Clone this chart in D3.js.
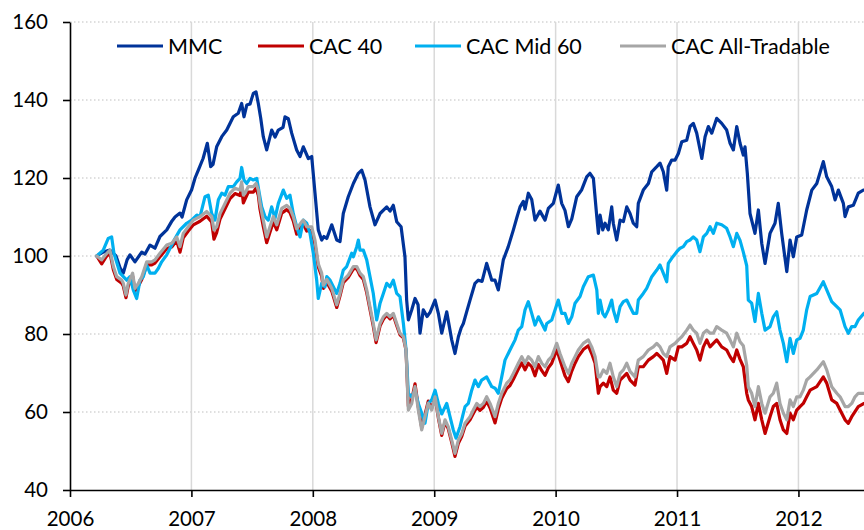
<!DOCTYPE html>
<html><head><meta charset="utf-8">
<script src="https://cdn.jsdelivr.net/npm/d3@7"></script>
<style>
body{margin:0;background:#fff}
svg{display:block}
text{font-family:Lato,'Liberation Sans',Arial,sans-serif;fill:#000}
</style>
</head><body>
<svg id="chart" width="864" height="530"></svg>
<script>
const seriesNames = ["MMC", "CAC 40", "CAC Mid 60", "CAC All-Tradable"];
const yearTicks = [2006, 2007, 2008, 2009, 2010, 2011, 2012];
const valueTicks = [40, 60, 80, 100, 120, 140, 160];

// [decimal year, index value]
const mmc = [[2006.220,100],[2006.272,101],[2006.329,101.5],[2006.379,100],[2006.412,97],[2006.439,95.6],[2006.470,99],[2006.494,100.3],[2006.535,98.5],[2006.591,101],[2006.618,100.5],[2006.659,102.8],[2006.700,102],[2006.741,105],[2006.797,106.7],[2006.840,109],[2006.865,110],[2006.906,111],[2006.923,110],[2006.961,114.4],[2007.002,117],[2007.030,120],[2007.057,122],[2007.096,125],[2007.131,128.9],[2007.159,122.9],[2007.178,123.5],[2007.208,128],[2007.250,130.6],[2007.291,132.3],[2007.345,135.7],[2007.386,136.6],[2007.414,139.1],[2007.433,135.7],[2007.456,138.7],[2007.483,139],[2007.510,141.7],[2007.532,142.1],[2007.551,139.1],[2007.571,135.3],[2007.592,130.6],[2007.620,127.2],[2007.661,132.3],[2007.689,130.5],[2007.716,132.3],[2007.755,133],[2007.771,135.7],[2007.798,135.2],[2007.826,131.5],[2007.867,127.2],[2007.895,125.5],[2007.922,128],[2007.963,125],[2007.991,125.5],[2008.018,116.1],[2008.045,106.7],[2008.073,104.1],[2008.092,105],[2008.115,104.5],[2008.156,108],[2008.197,104.1],[2008.224,103.7],[2008.251,110.9],[2008.292,115.2],[2008.334,118.6],[2008.375,121.2],[2008.403,122],[2008.430,119.5],[2008.471,112.6],[2008.512,108],[2008.554,110.9],[2008.609,112.6],[2008.636,111.5],[2008.663,113],[2008.691,108.8],[2008.727,107.5],[2008.759,99.8],[2008.773,88.7],[2008.787,83.6],[2008.815,86.2],[2008.842,89.1],[2008.867,87.5],[2008.883,80.2],[2008.910,86.2],[2008.941,84.5],[2008.965,85.5],[2009.007,88.7],[2009.034,85.3],[2009.062,80.2],[2009.103,85.7],[2009.144,78.5],[2009.171,75],[2009.199,79.3],[2009.221,81.5],[2009.240,82.7],[2009.270,86],[2009.295,88.7],[2009.336,93],[2009.363,93.8],[2009.394,93.5],[2009.432,98.1],[2009.474,93.8],[2009.501,93.8],[2009.528,91.3],[2009.569,99],[2009.610,102.4],[2009.652,106.7],[2009.682,110],[2009.707,112.6],[2009.734,114],[2009.748,112],[2009.775,116.1],[2009.803,114.5],[2009.830,109.2],[2009.871,111.5],[2009.913,109.2],[2009.940,112.2],[2009.981,113.5],[2010.022,118.2],[2010.050,113.5],[2010.077,111.7],[2010.105,107.5],[2010.133,109.5],[2010.174,115.2],[2010.215,117],[2010.256,120.3],[2010.283,121.2],[2010.311,119.9],[2010.339,110.1],[2010.352,105.8],[2010.366,110.5],[2010.388,106.7],[2010.407,108.4],[2010.434,106.7],[2010.462,112.6],[2010.475,108.4],[2010.503,104.1],[2010.531,109.2],[2010.558,108.8],[2010.586,112.6],[2010.613,110.9],[2010.640,108.4],[2010.668,107.5],[2010.681,113.5],[2010.722,116.9],[2010.764,118.6],[2010.792,121.6],[2010.833,122.9],[2010.860,123.8],[2010.887,121.6],[2010.915,116.9],[2010.928,122.9],[2010.956,124.6],[2010.984,124.6],[2011.011,126.3],[2011.039,129.3],[2011.080,129.7],[2011.107,133.2],[2011.134,134],[2011.162,131.5],[2011.204,125],[2011.231,130.6],[2011.258,133.2],[2011.286,131.5],[2011.327,135.3],[2011.368,134],[2011.409,132.3],[2011.437,128.9],[2011.464,127.2],[2011.492,133.2],[2011.519,128.9],[2011.546,125.9],[2011.560,128],[2011.579,121.2],[2011.601,110.9],[2011.642,105.8],[2011.670,111.8],[2011.698,103.2],[2011.725,98.1],[2011.766,105.8],[2011.807,108.4],[2011.834,113.5],[2011.862,105.8],[2011.904,96],[2011.931,104.1],[2011.958,99.8],[2011.986,104.9],[2012.027,105.4],[2012.068,111.8],[2012.110,116.9],[2012.151,118.6],[2012.205,124.2],[2012.233,120.3],[2012.274,117.8],[2012.302,114.4],[2012.329,116.9],[2012.370,113.5],[2012.384,110.1],[2012.411,112.6],[2012.452,113],[2012.493,116.1],[2012.535,116.9],[2012.573,117]];

const cac40 = [[2006.220,100],[2006.261,98],[2006.297,99.8],[2006.329,100.8],[2006.357,96.5],[2006.385,94],[2006.426,93],[2006.439,92.3],[2006.461,89.3],[2006.480,92.3],[2006.516,94.8],[2006.535,91],[2006.563,92.3],[2006.591,94],[2006.632,97.7],[2006.673,97.7],[2006.700,98.2],[2006.741,99.8],[2006.797,101.9],[2006.838,102.3],[2006.879,103.9],[2006.906,101],[2006.933,104.7],[2006.974,106.4],[2007.016,108],[2007.071,108.9],[2007.126,110.2],[2007.167,108.7],[2007.186,104.3],[2007.208,106],[2007.236,109.5],[2007.263,111.2],[2007.318,114.7],[2007.359,116],[2007.400,115.5],[2007.414,117.6],[2007.428,113.6],[2007.442,114.6],[2007.469,116.4],[2007.510,116.4],[2007.532,117.4],[2007.551,115.6],[2007.565,112],[2007.592,107.6],[2007.620,103.4],[2007.647,106.1],[2007.675,108.8],[2007.703,106.7],[2007.744,111],[2007.785,111.9],[2007.812,111.1],[2007.839,109],[2007.867,105.6],[2007.909,107.7],[2007.922,108.2],[2007.950,106.4],[2007.991,106.6],[2008.018,103],[2008.045,97.2],[2008.073,94.8],[2008.087,91.7],[2008.115,93.3],[2008.156,91],[2008.197,86.8],[2008.224,89.8],[2008.251,93.2],[2008.292,94.5],[2008.334,96.7],[2008.362,96.8],[2008.389,95],[2008.416,94],[2008.444,90.6],[2008.471,86.3],[2008.498,82],[2008.521,77.8],[2008.554,82.1],[2008.581,83.8],[2008.609,84.8],[2008.636,83.9],[2008.663,84.8],[2008.691,82.2],[2008.718,79.8],[2008.746,79],[2008.768,75.8],[2008.778,68],[2008.787,61.5],[2008.815,63.2],[2008.842,67.2],[2008.869,61.3],[2008.897,56],[2008.924,59.3],[2008.951,62.8],[2008.979,61],[2009.007,63.9],[2009.034,58.5],[2009.062,54],[2009.089,57.5],[2009.116,55.7],[2009.144,52.2],[2009.171,48.6],[2009.199,52],[2009.227,53.8],[2009.254,56.4],[2009.295,58],[2009.322,59.6],[2009.350,61.2],[2009.377,60.4],[2009.405,61.2],[2009.432,62.8],[2009.460,61],[2009.501,57.2],[2009.528,60.8],[2009.556,63.5],[2009.597,66],[2009.624,66.8],[2009.652,68.4],[2009.693,71],[2009.721,72.6],[2009.748,70.8],[2009.775,72.5],[2009.803,71.6],[2009.830,69.3],[2009.858,72.2],[2009.886,70.6],[2009.913,69.4],[2009.940,71.3],[2009.968,72.5],[2010.009,76],[2010.036,73.3],[2010.077,69.3],[2010.105,67.8],[2010.133,70.5],[2010.160,72.5],[2010.187,74.2],[2010.228,76],[2010.269,77],[2010.297,75],[2010.325,72.5],[2010.352,64.8],[2010.366,66.5],[2010.393,67.4],[2010.421,66.5],[2010.448,69],[2010.475,65.6],[2010.503,64.8],[2010.531,68.2],[2010.558,69],[2010.586,69.9],[2010.613,68.2],[2010.654,66.9],[2010.681,71.6],[2010.722,71.6],[2010.764,73.3],[2010.805,74.2],[2010.833,75],[2010.860,74.2],[2010.887,73.3],[2010.915,69.9],[2010.942,74.2],[2010.984,73.3],[2011.011,76.7],[2011.039,76.7],[2011.080,77.6],[2011.107,79.3],[2011.134,77.6],[2011.162,75.9],[2011.189,73.3],[2011.217,76.7],[2011.245,78.5],[2011.272,76.7],[2011.299,77.6],[2011.327,78.5],[2011.368,76.7],[2011.409,75.9],[2011.437,74.2],[2011.464,72.9],[2011.492,75.9],[2011.519,73.5],[2011.546,71.6],[2011.574,64.8],[2011.587,63.1],[2011.615,61.4],[2011.642,58],[2011.670,62.2],[2011.698,58],[2011.725,54.5],[2011.766,58.8],[2011.793,61.4],[2011.821,62.2],[2011.848,58],[2011.876,55.4],[2011.904,54.5],[2011.931,59.7],[2011.958,58],[2011.986,60.5],[2012.013,61.4],[2012.040,62.2],[2012.068,63.9],[2012.096,65.6],[2012.151,66.5],[2012.205,69],[2012.233,67.4],[2012.274,63.1],[2012.316,62.2],[2012.343,60.5],[2012.384,58],[2012.411,57.1],[2012.439,58.8],[2012.466,60.1],[2012.493,61.4],[2012.540,62.2],[2012.573,62.5]];

const cacMid60 = [[2006.220,100],[2006.274,101.5],[2006.315,104.5],[2006.343,104.9],[2006.362,100.7],[2006.412,95.6],[2006.467,93.8],[2006.494,94.7],[2006.521,91.3],[2006.549,89.1],[2006.577,93.8],[2006.604,94.7],[2006.632,97.7],[2006.659,95.6],[2006.700,95.6],[2006.727,96.8],[2006.755,98.5],[2006.797,100.3],[2006.838,102.8],[2006.865,104.5],[2006.906,106.7],[2006.961,108.4],[2007.002,109.2],[2007.044,110.5],[2007.071,110.1],[2007.112,115.2],[2007.139,115.6],[2007.167,110.9],[2007.194,109.2],[2007.222,114.4],[2007.250,116.1],[2007.277,115.6],[2007.304,117.8],[2007.345,117.8],[2007.373,119],[2007.400,119.9],[2007.414,122.7],[2007.433,119.5],[2007.456,118.6],[2007.483,119.9],[2007.510,119.5],[2007.538,119.9],[2007.559,116.1],[2007.579,112.6],[2007.606,110.1],[2007.633,109.2],[2007.661,112.6],[2007.689,109.7],[2007.716,113.5],[2007.757,116.9],[2007.785,114.8],[2007.812,115.6],[2007.839,110.9],[2007.867,107.5],[2007.895,104.9],[2007.922,109.2],[2007.950,108.4],[2007.977,105.8],[2008.004,100.7],[2008.032,93.8],[2008.045,89.1],[2008.073,93],[2008.100,92.1],[2008.115,94.7],[2008.142,93.8],[2008.169,92.1],[2008.197,90.4],[2008.224,93],[2008.251,96.4],[2008.279,97.3],[2008.320,100.7],[2008.334,99.8],[2008.362,102.4],[2008.375,104.1],[2008.389,101.5],[2008.416,101.5],[2008.444,99],[2008.471,94.7],[2008.498,90.4],[2008.526,83.6],[2008.554,87.9],[2008.581,90.4],[2008.609,93],[2008.636,92.1],[2008.663,93.8],[2008.691,90.4],[2008.718,89.6],[2008.746,82.7],[2008.768,75.9],[2008.787,64.8],[2008.815,63.9],[2008.842,65.6],[2008.869,62.2],[2008.897,59.7],[2008.924,57.1],[2008.951,62.2],[2008.979,63.1],[2009.007,65.6],[2009.034,62.2],[2009.062,59.5],[2009.103,62.2],[2009.130,58.8],[2009.157,55.4],[2009.180,53.3],[2009.213,56.3],[2009.240,59.7],[2009.254,61.4],[2009.281,62.2],[2009.309,65.6],[2009.336,68.2],[2009.363,66.5],[2009.391,68.2],[2009.432,69],[2009.474,66.5],[2009.501,66.1],[2009.528,64.8],[2009.556,69],[2009.583,73.3],[2009.624,75.9],[2009.666,78.5],[2009.693,81],[2009.721,81.9],[2009.748,86.2],[2009.775,88.3],[2009.803,85.3],[2009.830,82.3],[2009.858,84.4],[2009.886,82.7],[2009.913,81],[2009.927,82.7],[2009.968,83.6],[2010.022,88.7],[2010.050,85.3],[2010.077,85.3],[2010.105,82.7],[2010.133,84.4],[2010.160,87.9],[2010.201,89.6],[2010.228,92.1],[2010.269,94.7],[2010.311,95.1],[2010.339,91.3],[2010.352,85.3],[2010.366,88.7],[2010.388,85.3],[2010.407,84.4],[2010.434,86.2],[2010.462,88.7],[2010.475,86.2],[2010.503,83.2],[2010.531,87],[2010.558,88.3],[2010.586,88.7],[2010.613,87],[2010.640,85.3],[2010.668,85.3],[2010.681,88.7],[2010.722,90.4],[2010.750,91.7],[2010.792,94.7],[2010.833,96.4],[2010.860,97.7],[2010.887,95.6],[2010.915,93.4],[2010.928,98.1],[2010.956,99.4],[2010.998,101.1],[2011.025,102],[2011.052,102.4],[2011.080,103.7],[2011.107,104.1],[2011.134,104.9],[2011.162,104.1],[2011.189,101.1],[2011.217,104.9],[2011.245,105.8],[2011.272,107.5],[2011.299,105.8],[2011.327,108.4],[2011.368,108],[2011.409,107.1],[2011.437,104.9],[2011.464,102.4],[2011.492,105.8],[2011.519,104],[2011.546,101],[2011.574,97.5],[2011.587,88.7],[2011.615,87.9],[2011.642,83.2],[2011.670,90.4],[2011.698,85.3],[2011.725,81],[2011.766,81.9],[2011.793,84.4],[2011.821,85.7],[2011.848,81],[2011.876,77.6],[2011.904,72.9],[2011.931,78.9],[2011.958,75],[2011.986,78.5],[2012.013,78.9],[2012.040,81],[2012.068,86.2],[2012.096,89.6],[2012.151,90.4],[2012.205,93.4],[2012.233,91.3],[2012.274,88.3],[2012.316,87],[2012.343,86.2],[2012.384,81.9],[2012.411,80.2],[2012.439,81.9],[2012.466,81.9],[2012.493,83.6],[2012.540,85.3],[2012.573,86]];

const cacAllTradable = [[2006.220,100],[2006.261,99],[2006.297,100.5],[2006.329,101.5],[2006.357,97.3],[2006.385,94.7],[2006.426,93.8],[2006.439,93],[2006.461,90],[2006.480,93],[2006.516,95.6],[2006.535,91.7],[2006.563,93],[2006.591,94.7],[2006.632,98.5],[2006.673,98.5],[2006.700,99],[2006.741,100.7],[2006.797,102.8],[2006.838,103.3],[2006.879,104.9],[2006.906,102.4],[2006.933,105.8],[2006.974,107.5],[2007.016,109.2],[2007.071,110.1],[2007.126,111.4],[2007.167,110.1],[2007.186,106.7],[2007.208,107.5],[2007.236,110.9],[2007.263,112.6],[2007.318,116.1],[2007.359,117.4],[2007.400,116.9],[2007.414,119],[2007.428,115.6],[2007.442,116.1],[2007.469,117.8],[2007.510,117.8],[2007.532,118.6],[2007.551,116.9],[2007.565,113.5],[2007.592,109.2],[2007.620,104.9],[2007.647,107.5],[2007.675,110.1],[2007.703,108],[2007.744,112.2],[2007.785,113],[2007.812,112.2],[2007.839,110.1],[2007.867,107],[2007.909,108.8],[2007.922,109.2],[2007.950,107.5],[2007.991,107.5],[2008.018,104],[2008.045,98],[2008.073,95.6],[2008.087,92.5],[2008.115,94],[2008.156,91.7],[2008.197,87.5],[2008.224,90.4],[2008.251,93.8],[2008.292,95.1],[2008.334,97.3],[2008.362,97.3],[2008.389,95.6],[2008.416,94.7],[2008.444,91.3],[2008.471,87],[2008.498,82.7],[2008.521,78.5],[2008.554,82.7],[2008.581,84.4],[2008.609,85.3],[2008.636,84.4],[2008.663,85.3],[2008.691,82.7],[2008.718,80.2],[2008.746,79.3],[2008.768,75.9],[2008.778,67.4],[2008.787,60.5],[2008.815,62.2],[2008.842,66.5],[2008.869,60.5],[2008.897,55.4],[2008.924,58.8],[2008.951,62.2],[2008.979,60.5],[2009.007,63.9],[2009.034,58.8],[2009.062,54.5],[2009.089,58],[2009.116,56.2],[2009.144,52.8],[2009.171,49.4],[2009.199,52.8],[2009.227,54.5],[2009.254,57.1],[2009.295,58.8],[2009.322,60.5],[2009.350,62.2],[2009.377,61.4],[2009.405,62.2],[2009.432,63.9],[2009.460,62.2],[2009.501,58.8],[2009.528,62.2],[2009.556,64.8],[2009.597,67.4],[2009.624,68.2],[2009.652,69.9],[2009.693,72.5],[2009.721,74.2],[2009.748,72.5],[2009.775,74.2],[2009.803,73.3],[2009.830,71.6],[2009.858,74.2],[2009.886,72.5],[2009.913,71.6],[2009.940,73.3],[2009.968,74.2],[2010.009,77.6],[2010.036,75],[2010.077,71.6],[2010.105,69.9],[2010.133,72.5],[2010.160,74.2],[2010.187,75.9],[2010.228,77.6],[2010.269,78.5],[2010.297,76.7],[2010.325,74.2],[2010.352,69],[2010.366,69],[2010.393,70.8],[2010.421,69.9],[2010.448,72.5],[2010.475,69],[2010.503,66.5],[2010.531,69.9],[2010.558,70.8],[2010.586,72.5],[2010.613,70.4],[2010.654,69],[2010.681,73.3],[2010.722,74.2],[2010.764,75.9],[2010.805,76.7],[2010.833,77.6],[2010.860,76.7],[2010.887,75],[2010.915,74.2],[2010.942,76.7],[2010.984,77.6],[2011.011,78.5],[2011.039,79.3],[2011.080,81],[2011.107,82.3],[2011.134,81],[2011.162,80.2],[2011.189,77.6],[2011.217,80.2],[2011.245,81],[2011.272,80.2],[2011.299,80.2],[2011.327,81.9],[2011.368,81],[2011.409,80.2],[2011.437,78.5],[2011.464,76.7],[2011.492,80.2],[2011.519,78],[2011.546,77],[2011.574,72],[2011.587,66.5],[2011.615,64.8],[2011.642,61.4],[2011.670,66.5],[2011.698,62.2],[2011.725,59.7],[2011.766,63.9],[2011.793,64.8],[2011.821,67.4],[2011.848,62.2],[2011.876,59.7],[2011.904,58],[2011.931,63.1],[2011.958,61.4],[2011.986,63.9],[2012.013,63.9],[2012.040,65.6],[2012.068,68.2],[2012.096,69],[2012.151,70.8],[2012.205,72.9],[2012.233,70.8],[2012.274,66.5],[2012.316,64.8],[2012.343,63.9],[2012.384,61.4],[2012.411,61.4],[2012.439,62.2],[2012.466,63.9],[2012.493,64.8],[2012.540,64.8],[2012.573,65]];

const seriesData = [mmc, cac40, cacMid60, cacAllTradable];
const seriesColors = ["#003399", "#C00000", "#00B0F0", "#A6A6A6"];

const svg = d3.select("#chart");
const plotLeft = 70, plotRight = 864, plotTop = 22, plotBottom = 490;

const x = d3.scaleLinear().domain([2006, 2012.54]).range([plotLeft, plotRight]);
const y = d3.scaleLinear().domain([40, 160]).range([plotBottom, plotTop]);

// horizontal dotted gridlines
svg.append("g").selectAll("line")
  .data(valueTicks.filter(v => v > 40))
  .join("line")
  .attr("x1", plotLeft).attr("x2", plotRight)
  .attr("y1", d => y(d)).attr("y2", d => y(d))
  .attr("stroke", "#BFBFBF").attr("stroke-width", 1.2)
  .attr("stroke-dasharray", "1.5,2.5");

// vertical gridlines
svg.append("g").selectAll("line")
  .data(yearTicks.filter(v => v > 2006))
  .join("line")
  .attr("x1", d => x(d)).attr("x2", d => x(d))
  .attr("y1", plotTop).attr("y2", plotBottom)
  .attr("stroke", "#D9D9D9").attr("stroke-width", 1.5);

// series lines
svg.append("defs").append("clipPath").attr("id", "plotclip")
  .append("rect").attr("x", plotLeft).attr("y", 0).attr("width", plotRight - plotLeft).attr("height", plotBottom);

const line = d3.line().x(d => x(d[0])).y(d => y(d[1]));
svg.append("g").attr("clip-path", "url(#plotclip)")
  .selectAll("path")
  .data(seriesData)
  .join("path")
  .attr("d", line)
  .attr("fill", "none")
  .attr("stroke", (d, i) => seriesColors[i])
  .attr("stroke-width", 3.2)
  .attr("stroke-linejoin", "round")
  .attr("stroke-linecap", "round");

// axes
const yAxis = d3.axisLeft(y).tickValues(valueTicks).tickSize(7).tickSizeOuter(0).tickPadding(15);
const gy = svg.append("g").attr("transform", `translate(${plotLeft},0)`).call(yAxis);
const xAxis = d3.axisBottom(x).tickValues(yearTicks).tickFormat(d3.format("d")).tickSize(7).tickSizeOuter(0).tickPadding(14);
const gx = svg.append("g").attr("transform", `translate(0,${plotBottom})`).call(xAxis);
[gx, gy].forEach(g => {
  g.select(".domain").attr("stroke", "#000").attr("stroke-width", 1.6);
  g.selectAll(".tick line").attr("stroke", "#000").attr("stroke-width", 1.6);
  g.selectAll(".tick text").attr("font-size", 20.5).attr("font-family", "Lato, 'Liberation Sans', Arial, sans-serif").attr("fill", "#000");
});

// legend
const legendX = [117, 258, 415, 620];
const legend = svg.append("g").selectAll("g").data(seriesNames).join("g")
  .attr("transform", (d, i) => `translate(${legendX[i]},46)`);
legend.append("line").attr("x1", 0).attr("x2", 46).attr("y1", 0).attr("y2", 0)
  .attr("stroke", (d, i) => seriesColors[i]).attr("stroke-width", 3.2);
legend.append("text").attr("x", 51).attr("y", 7.5).attr("font-size", 21.5).text(d => d);
</script>
</body></html>
